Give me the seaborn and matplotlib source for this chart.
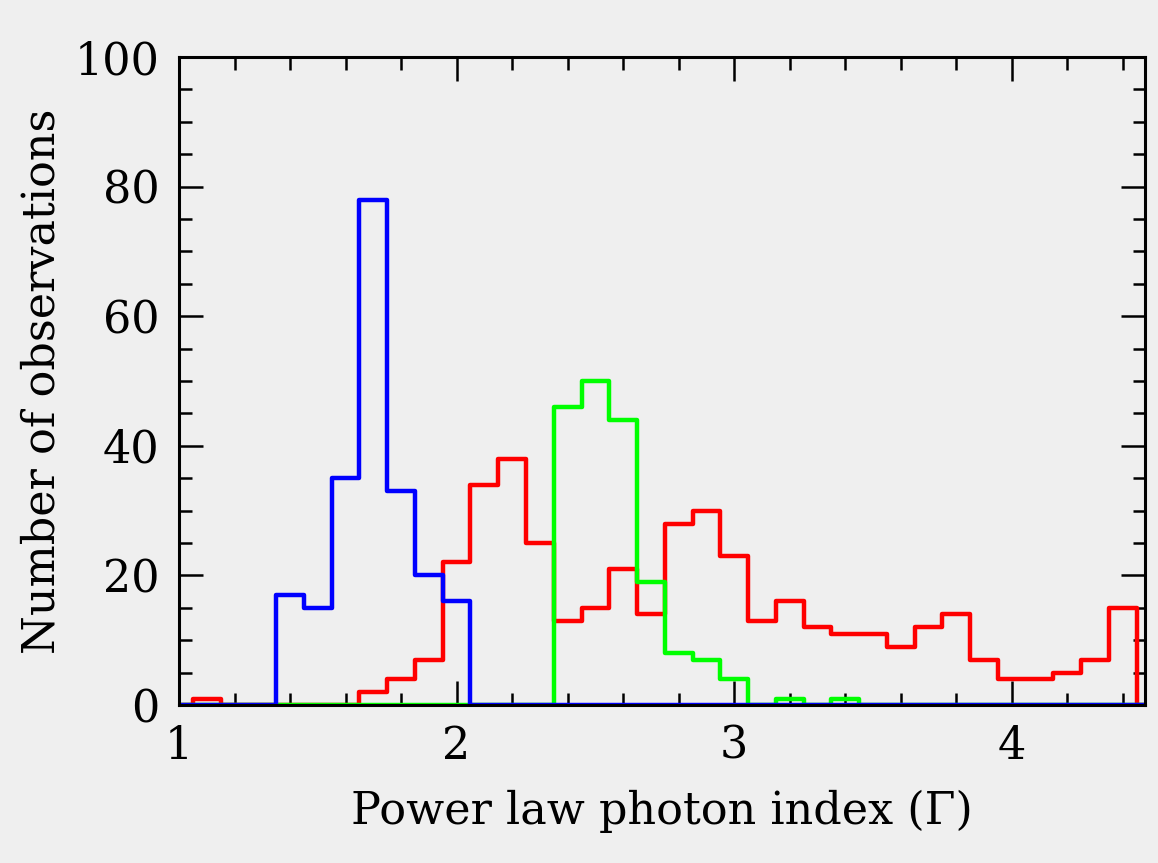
import numpy as np
import pandas as pd
import matplotlib
matplotlib.use("Agg")
import matplotlib.pyplot as plt
from matplotlib.ticker import MultipleLocator
import seaborn as sns

# bin centres (width 0.1)
centers = [round(1.0 + 0.1 * i, 1) for i in range(36)]
blue_counts = [0, 0, 0, 0, 17, 15, 35, 78, 33, 20, 16, 0, 0, 0, 0, 0, 0, 0,
               0, 0, 0, 0, 0, 0, 0, 0, 0, 0, 0, 0, 0, 0, 0, 0, 0, 0]
red_counts = [0, 1, 0, 0, 0, 0, 0, 2, 4, 7, 22, 34, 38, 25, 13, 15, 21, 14,
              28, 30, 23, 13, 16, 12, 11, 11, 9, 12, 14, 7, 4, 4, 5, 7, 15, 0]
green_counts = [0, 0, 0, 0, 0, 0, 0, 0, 0, 0, 0, 0, 0, 0, 46, 50, 44, 19,
                8, 7, 4, 0, 1, 0, 1, 0, 0, 0, 0, 0, 0, 0, 0, 0, 0, 0]

x_label = "Power law photon index (Γ)"
y_label = "Number of observations"

bg = "#efefef"
sns.set_style("ticks")
plt.rcParams["font.family"] = ["DejaVu Serif"]
plt.rcParams["text.color"] = "black"
plt.rcParams["axes.labelcolor"] = "black"
plt.rcParams["xtick.color"] = "black"
plt.rcParams["ytick.color"] = "black"

fig = plt.figure(figsize=(11.58, 8.63), dpi=100, facecolor=bg)
ax = fig.add_axes([0.1546, 0.1831, 0.8342, 0.7509])
ax.set_facecolor(bg)

for counts, col in [(red_counts, "#ff0000"), (green_counts, "#00ff00"), (blue_counts, "#0000ff")]:
    df = pd.DataFrame({"x": centers, "w": counts})
    sns.histplot(data=df, x="x", weights="w", binwidth=0.1, binrange=(0.95, 4.55),
                 element="step", fill=False, color=col, linewidth=3.2, ax=ax)

ax.set_xlim(1.0, 4.48)
ax.set_ylim(0, 100)
ax.xaxis.set_major_locator(MultipleLocator(1))
ax.xaxis.set_minor_locator(MultipleLocator(0.2))
ax.yaxis.set_major_locator(MultipleLocator(20))
ax.yaxis.set_minor_locator(MultipleLocator(5))
ax.tick_params(which="both", direction="in", top=True, right=True,
               width=1.8, color="black", labelcolor="black")
ax.tick_params(which="major", length=17, labelsize=32)
ax.tick_params(axis="x", which="major", pad=14)
ax.tick_params(axis="y", which="major", pad=14)
ax.tick_params(which="minor", length=9)
for s in ax.spines.values():
    s.set_linewidth(2.2)
    s.set_color("black")

ax.set_xlabel(x_label, fontsize=32, labelpad=16, color="black")
ax.set_ylabel(y_label, fontsize=32, labelpad=8, color="black")

fig.savefig("out.png", dpi=100, facecolor=bg)
